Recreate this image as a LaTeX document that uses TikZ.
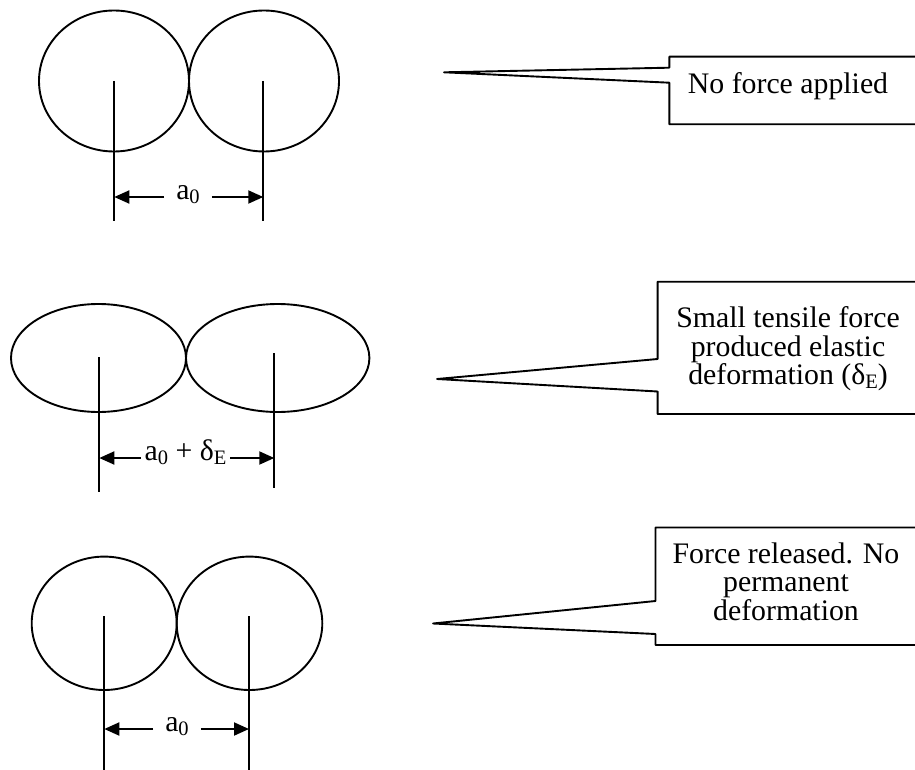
\documentclass[tikz,border=0pt]{standalone}
\usepackage{fontspec}
\setmainfont{Liberation Serif}
\usetikzlibrary{arrows.meta}
% lowered, smaller index for a_0 and delta_E
\newcommand{\lowidx}[1]{\raisebox{-0.13em}{\fontsize{20.5}{20}\selectfont #1}}

\begin{document}
\begin{tikzpicture}[x=1pt,y=-1pt,
  atom/.style={line width=1.9pt},
  guide/.style={line width=1.9pt},
  dimline/.style={line width=1.9pt, -{Triangle[length=15pt,width=13pt]}},
  dimlabel/.style={anchor=mid, inner ysep=0pt, inner xsep=12pt, font=\fontsize{29.8}{30}\selectfont},
  callout/.style={line width=1.9pt, line join=round},
  note/.style={align=center, inner sep=0pt, font=\fontsize{29.8}{28.6}\selectfont}
]
\useasboundingbox (0,0) rectangle (915,770);

% ---------- unloaded pair ----------
\draw[atom] (114,81) ellipse [x radius=75pt, y radius=70.5pt];
\draw[atom] (264,81) ellipse [x radius=75pt, y radius=70.5pt];
\coordinate (p1l) at (114.3,81);  \coordinate (p1lb) at (114.3,221);
\coordinate (p1r) at (263.3,81);  \coordinate (p1rb) at (263.3,221);
\draw[guide] (p1l) -- (p1lb);
\draw[guide] (p1r) -- (p1rb);
\node[dimlabel] (d1) at (188,197) {a\lowidx{0}};
\draw[dimline] (d1.mid west) -- (d1.mid west -| p1l);
\draw[dimline] (d1.mid east) -- (d1.mid east -| p1r);

% ---------- stretched pair ----------
\draw[atom] (98.5,358) ellipse [x radius=87.5pt, y radius=54pt];
\draw[atom] (277.7,358) ellipse [x radius=91.7pt, y radius=54pt];
\coordinate (p2l) at (99.3,357);  \coordinate (p2lb) at (99.3,492);
\coordinate (p2r) at (274.3,353); \coordinate (p2rb) at (274.3,488);
\draw[guide] (p2l) -- (p2lb);
\draw[guide] (p2r) -- (p2rb);
\node[dimlabel, inner xsep=3.5pt] (d2) at (185.5,458) {a\lowidx{0} + δ\lowidx{E}};
\draw[dimline] (d2.mid west) -- (d2.mid west -| p2l);
\draw[dimline] (d2.mid east) -- (d2.mid east -| p2r);

% ---------- released pair ----------
\draw[atom] (104.2,623.3) ellipse [x radius=72.5pt, y radius=66.7pt];
\draw[atom] (249.5,623.3) ellipse [x radius=72.8pt, y radius=66.7pt];
\coordinate (p3l) at (104.3,616); \coordinate (p3lb) at (104.3,770);
\coordinate (p3r) at (249,616);   \coordinate (p3rb) at (249,770);
\draw[guide] (p3l) -- (p3lb);
\draw[guide] (p3r) -- (p3rb);
\node[dimlabel] (d3) at (177,729) {a\lowidx{0}};
\draw[dimline] (d3.mid west) -- (d3.mid west -| p3l);
\draw[dimline] (d3.mid east) -- (d3.mid east -| p3r);

% ---------- callouts ----------
\coordinate (t1) at (444,72.3);
\draw[callout] (915,56.7) -- (669.3,56.7) -- (669.3,67.7) -- (t1)
  -- (669.3,82.7) -- (669.3,124.3) -- (915,124.3);
\node[note, anchor=base] (n1) at (788,93.3) {No force applied};

\coordinate (t2) at (437,379);
\draw[callout] (915,281.7) -- (657.6,281.7) -- (657.6,359) -- (t2)
  -- (657.6,391.5) -- (657.6,414) -- (915,414);
\node[note] (n2) at (788,349) {Small tensile force\\produced elastic\\deformation (δ\lowidx{E})};

\coordinate (t3) at (433,623.5);
\draw[callout] (915,527.5) -- (655.5,527.5) -- (655.5,601) -- (t3)
  -- (655.5,634) -- (655.5,645) -- (915,645);
\node[note] (n3) at (786,581.5) {Force released. No\\permanent\\deformation};
\end{tikzpicture}
\end{document}
